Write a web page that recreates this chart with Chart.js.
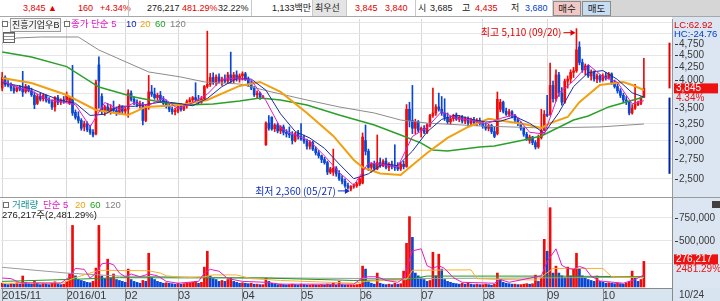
<!DOCTYPE html>
<html>
<head>
<meta charset="utf-8">
<script src="https://cdn.jsdelivr.net/npm/chart.js@4.4.1/dist/chart.umd.min.js"></script>
<style>
  body { margin: 0; width: 720px; height: 301px; position: relative; overflow: hidden; background: #fff;
         font-family: "Liberation Sans", "Noto Sans CJK KR", sans-serif; font-size: 9.5px; }
  .abs { position: absolute; white-space: nowrap; line-height: 12px; }
  #top { position: absolute; left: 0; top: 0; width: 720px; height: 16px; background: #fff; border-bottom: 1px solid #a8a8a8; font-size: 9px; }
  .sep { position: absolute; top: 0; width: 1px; height: 16px; background: #c8c8c8; }
  .btn { position: absolute; top: 1px; height: 13px; border: 1px solid #8c8c8c; text-align: center; line-height: 13px; font-size: 9.5px; }
  .r { color: #e00000; } .b { color: #0040c8; } .k { color: #202020; }
  .m5 { color: #e01cc8; } .m10 { color: #1020c0; } .m20 { color: #f0a010; } .m60 { color: #20a020; } .m120 { color: #808080; }
  .sq { position: absolute; width: 4px; height: 4px; border: 1px solid #707070; background: #fff; }
  canvas { position: absolute; left: 0; }
</style>
</head>
<body>
<div id="top">
  <span class="abs r" style="left:23px;top:2px">3,845 ▲</span>
  <span class="abs r" style="left:78px;top:2px">160</span>
  <span class="abs r" style="left:100px;top:2px">+4.34%</span>
  <div class="sep" style="left:128px"></div>
  <span class="abs k" style="left:147px;top:2px">276,217</span>
  <span class="abs r" style="left:182px;top:2px">481.29%</span>
  <span class="abs k" style="left:218px;top:2px">32.22%</span>
  <div class="sep" style="left:251px"></div>
  <span class="abs k" style="left:272px;top:2px">1,133백만</span>
  <div style="position:absolute;left:312px;top:0;width:33px;height:16px;background:#e4e4e4;border-left:1px solid #c8c8c8;border-right:1px solid #c8c8c8"></div>
  <span class="abs k" style="left:315px;top:2px">최우선</span>
  <span class="abs r" style="left:355px;top:2px">3,845</span>
  <span class="abs r" style="left:385px;top:2px">3,840</span>
  <div class="sep" style="left:415px"></div>
  <span class="abs k" style="left:418px;top:2px">시</span>
  <span class="abs k" style="left:430px;top:2px">3,685</span>
  <span class="abs k" style="left:462px;top:2px">고</span>
  <span class="abs r" style="left:475px;top:2px">4,435</span>
  <span class="abs k" style="left:511px;top:2px">저</span>
  <span class="abs b" style="left:525px;top:2px">3,680</span>
  <div style="position:absolute;left:552px;top:0;width:168px;height:16px;background:#d6d6d6"></div>
  <div class="btn k" style="left:553px;width:26px;background:#f2c8c4">매수</div>
  <div class="btn k" style="left:582px;width:27px;background:#c8dcf2">매도</div>
</div>

<canvas id="price" width="720" height="180" style="top:17px;width:720px;height:180px"></canvas>
<div style="position:absolute;left:0;top:197px;width:720px;height:1px;background:#9a9a9a"></div>
<canvas id="volume" width="720" height="103" style="top:198px;width:720px;height:103px"></canvas>

<!-- price legend -->
<div class="sq" style="left:2px;top:21px"></div>
<div class="abs k" style="left:10px;top:18px;height:12px;padding:0 1px;border:1px solid #9a9a9a;background:#f4f4f4;font-size:9px">진흥기업우B</div>
<div class="sq" style="left:64px;top:21px"></div>
<span class="abs m5" style="left:71px;top:18px">종가 단순 5</span>
<span class="abs m10" style="left:126px;top:18px">10</span>
<span class="abs m20" style="left:140px;top:18px">20</span>
<span class="abs m60" style="left:155px;top:18px">60</span>
<span class="abs m120" style="left:170px;top:18px">120</span>
<div style="position:absolute;left:3px;top:32px;width:10px;height:9px;border:1px solid #606060;background:repeating-linear-gradient(0deg,#fff 0,#fff 2px,#909090 2px,#909090 3px)"></div>

<!-- right header -->
<span class="abs r" style="left:674px;top:19px">LC:62.92</span>
<span class="abs b" style="left:674px;top:28px">HC:-24.76</span>

<!-- volume legend -->
<div class="sq" style="left:3px;top:202px"></div>
<span class="abs" style="left:12px;top:199px;color:#109090">거래량</span>
<span class="abs m5" style="left:43px;top:199px">단순 5</span>
<span class="abs m20" style="left:75px;top:199px">20</span>
<span class="abs m60" style="left:90px;top:199px">60</span>
<span class="abs m120" style="left:105px;top:199px">120</span>
<span class="abs k" style="left:2px;top:209px">276,217주(2,481.29%)</span>
<div style="position:absolute;left:712px;top:201px;width:6px;height:5px;background:#404040;border:1px solid #404040"></div>

<script>
// trading days from 2015-11-30 to 2016-10-24 (index 0..219)
const monthStarts = [0, 22, 42, 60, 82, 102, 122, 143, 164, 186, 205];
const monthLabels = ['2015/11', '2016/01', '02', '03', '04', '05', '06', '07', '08', '09', '10'];
const lastDateLabel = '10/24';

const opens = [
  3850,4050,3930,3900,3850,3800,3870,3850,3790,3880, 3800,3720,3580,3700,3660,3720,3630,3600,3520,3680,
  3600,3640,3640,3580,3680,3430,3360,3300,3200,3250, 3160,3120,3100,4300,3700,3450,3520,3450,3500,3460,
  3430,3520,3450,3480,3760,3650,3600,3560,3560,3300, 3520,3780,3740,3680,3720,3640,3580,3540,3480,3440,
  3450,3530,3480,3540,3610,3640,3680,3640,3600,3660, 3880,3920,4050,3960,4060,3980,4020,3980,4100,4000,
  4100,4020,4080,4120,4020,3920,3850,3730,3760,3690, 2940,3260,3350,3170,3230,3140,3200,3120,3100,3080,
  3000,3100,3060,3020,2990,2920,2970,2880,2830,2790, 2740,2700,2580,2580,2630,2560,2500,2470,2420,2380,
  2410,2420,2440,2450,3000,2850,2640,2680,2620,2700, 2660,2720,2640,2680,2650,2640,2620,2680,2650,3480,
  3300,3180,3280,3150,3180,3120,3230,3380,3420,3520, 3480,3420,3350,3280,3330,3380,3320,3350,3290,3330,
  3260,3310,3270,3300,3260,3210,3180,3220,3130,3100, 3480,3600,3450,3400,3440,3370,3310,3250,3180,3090,
  3000,3050,2970,2910,3040,3150,3400,3400,3900,3660, 4100,3760,3600,3980,4020,4150,4180,4680,4350,4200,
  4280,4080,4150,4020,4080,4000,4080,4040,4120,3950, 3880,3800,3720,3640,3600,3420,3500,3560,3580,3685
];
const highs = [
  4150,4080,3990,3950,3900,3880,3900,4170,3920,3900, 3850,3780,3740,3760,3750,3730,3680,3640,3700,3720,
  3660,3700,3780,3700,4290,3470,3440,3330,3290,3280, 3230,3160,4000,4470,3750,3550,3580,3560,3620,3520,
  3560,3540,3520,3820,3800,3700,3640,3620,3600,3560, 4090,3900,3850,3760,3790,3700,3640,3580,3520,3500,
  3560,3580,3560,3640,3680,3700,3950,3720,3700,3900, 5050,4130,4140,4100,4120,4060,4100,4150,4570,4150,
  4180,4120,4160,4150,4060,3980,3880,3800,3780,3720, 3280,3380,3360,3250,3260,3220,3230,3160,3200,3130,
  3120,3150,3250,3080,3020,3000,2990,2910,2860,2800, 2770,2720,2640,2880,2650,2600,2540,2500,2450,2420,
  2440,2460,2520,3110,3230,2880,2700,2720,3080,2760, 2740,2760,2700,2720,2940,2700,2700,2720,3560,3600,
  3900,3320,3300,3200,3220,3250,3400,3850,3560,3760, 3700,3660,3420,3360,3400,3420,3380,3380,3360,3360,
  3340,3350,3330,3340,3300,3260,3240,3240,3200,3780, 3650,3620,3500,3480,3460,3400,3340,3280,3200,3120,
  3080,3060,3000,3080,3480,3460,3720,4340,3980,4200, 4150,3860,4020,4080,4200,4250,5110,4800,4420,4320,
  4300,4200,4180,4120,4100,4120,4150,4150,4140,4000, 3920,3840,3760,3700,3620,3560,3920,3620,3700,4435
];
const lows = [
  3800,3880,3870,3800,3760,3780,3800,3700,3760,3780, 3700,3490,3560,3620,3620,3600,3580,3480,3450,3560,
  3560,3580,3600,3560,3380,3320,3260,3150,3140,3130, 3090,3050,3080,3500,3400,3380,3420,3400,3420,3380,
  3400,3410,3400,3350,3620,3560,3520,3500,3230,3280, 3480,3700,3650,3640,3600,3560,3500,3440,3400,3390,
  3420,3450,3460,3500,3560,3600,3600,3560,3580,3640, 3850,3880,3920,3900,3940,3900,3950,3940,3950,3950,
  3980,3960,4000,3990,3880,3820,3700,3680,3650,3660, 2930,3150,3150,3130,3110,3100,3080,3050,3040,2950,
  2980,3020,3000,2960,2880,2880,2860,2800,2760,2700, 2680,2550,2560,2540,2530,2480,2440,2400,2380,2360,
  2390,2400,2420,2440,2800,2600,2580,2600,2610,2640, 2650,2620,2600,2620,2600,2600,2600,2620,2640,3200,
  3100,3100,3120,3050,3100,3100,3200,3350,3380,3450, 3380,3300,3250,3240,3290,3300,3280,3260,3250,3220,
  3230,3240,3220,3230,3180,3150,3140,3100,3040,3080, 3440,3420,3380,3360,3340,3280,3220,3150,3060,3000,
  2960,2940,2880,2890,3020,3140,3360,3380,3600,3620, 3700,3550,3580,3850,3950,4050,4150,4300,4150,4100,
  4050,4000,3980,3950,3960,3980,4000,4020,3920,3850, 3760,3680,3600,3560,3390,3400,3480,3540,3560,3680
];
const closes = [
  4050,3920,3900,3850,3800,3860,3830,3780,3880,3800, 3730,3560,3700,3650,3720,3630,3600,3520,3680,3600,
  3640,3620,3720,3680,3420,3350,3300,3180,3250,3160, 3120,3080,3950,3980,3450,3520,3450,3500,3460,3430,
  3520,3450,3480,3760,3650,3600,3560,3580,3300,3520, 3780,3740,3680,3720,3640,3580,3540,3480,3440,3460,
  3530,3480,3540,3610,3640,3680,3640,3600,3660,3880, 3920,4050,3960,4060,3980,4020,3980,4100,4000,4100,
  4020,4080,4120,4020,3920,3850,3730,3760,3690,3700, 3260,3180,3170,3230,3140,3200,3120,3100,3080,3000,
  3100,3060,3020,2990,2920,2970,2880,2830,2790,2740, 2700,2580,2620,2630,2560,2500,2470,2420,2400,2410,
  2420,2440,2500,3050,2850,2640,2680,2620,2700,2660, 2720,2640,2680,2650,2640,2620,2680,2650,3480,3300,
  3180,3280,3150,3180,3120,3230,3380,3420,3520,3480, 3420,3350,3280,3330,3380,3320,3350,3290,3330,3260,
  3310,3270,3300,3260,3210,3180,3220,3130,3060,3650, 3600,3450,3400,3440,3370,3310,3250,3180,3090,3030,
  3050,2970,2910,3040,3150,3400,3380,3900,3660,4100, 3760,3600,3980,4020,4150,4180,4620,4350,4200,4280,
  4080,4150,4020,4080,4000,4080,4040,4120,3950,3880, 3800,3720,3640,3600,3420,3500,3560,3580,3685,3845
];
const volumes = [
  40000,30000,25000,35000,30000,45000,30000,118000,50000,35000, 30000,60000,40000,25000,35000,30000,25000,40000,55000,30000,
  25000,30000,60000,140000,665000,120000,80000,70000,60000,50000, 45000,60000,204000,665000,118000,90000,300000,100000,140000,80000,
  70000,60000,50000,193000,80000,60000,50000,40000,70000,60000, 364000,100000,80000,60000,50000,40000,45000,40000,35000,30000,
  40000,30000,35000,40000,45000,50000,60000,40000,50000,214000, 386000,120000,90000,80000,60000,70000,60000,80000,100000,60000,
  50000,40000,45000,40000,35000,40000,30000,30000,25000,25000, 96000,60000,40000,30000,25000,30000,25000,20000,25000,30000,
  25000,20000,30000,25000,20000,20000,25000,20000,20000,25000, 20000,30000,25000,40000,20000,60000,25000,20000,20000,20000,
  20000,25000,30000,225000,193000,60000,40000,30000,150000,40000, 30000,25000,30000,25000,40000,30000,35000,171000,472000,760000,
  536000,150000,120000,100000,80000,60000,70000,375000,120000,354000, 193000,80000,60000,50000,40000,35000,30000,40000,30000,50000,
  30000,25000,30000,25000,25000,30000,25000,20000,30000,150000, 80000,50000,40000,35000,30000,30000,25000,25000,30000,35000,
  30000,35000,128000,60000,100000,515000,386000,857000,150000,225000, 150000,120000,100000,214000,120000,193000,364000,200000,120000,100000,
  80000,70000,60000,118000,60000,50000,40000,45000,40000,35000, 40000,35000,30000,40000,60000,171000,100000,60000,80000,276217
];

// moving averages: [day index, value]
const ma5 = [[0,3980],[5,3866],[10,3804],[15,3652],[20,3608],[25,3558],[30,3202],[35,3596],[40,3472],[45,3588],
  [50,3548],[55,3672],[60,3490],[65,3590],[70,3740],[75,4014],[80,4040],[85,3998],[90,3628],[95,3184],[100,3080],
  [105,2992],[110,2788],[115,2578],[120,2424],[125,2696],[130,2676],[135,2646],[140,3058],[145,3192],[150,3444],
  [155,3332],[160,3308],[165,3244],[170,3332],[175,3394],[180,3120],[185,3094],[190,3760],[195,3986],[200,4306],
  [205,4066],[210,3958],[215,3572],[219,3626]];
const ma10 = [[0,3950],[5,3900],[10,3835],[15,3728],[20,3630],[25,3583],[30,3380],[35,3400],[40,3534],[45,3530],
  [50,3568],[55,3610],[60,3581],[65,3540],[70,3665],[75,3877],[80,4027],[85,4019],[90,3813],[95,3406],[100,3132],
  [105,3036],[110,2890],[115,2683],[120,2501],[125,2560],[130,2686],[135,2661],[140,2852],[145,3125],[150,3318],
  [155,3388],[160,3320],[165,3276],[170,3288],[175,3363],[180,3257],[185,3107],[190,3427],[195,3878],[200,4146],
  [205,4186],[210,4012],[215,3765],[219,3690]];
const ma20 = [[0,4040],[10,3945],[22,3726],[32,3469],[43,3387],[49,3520],[61,3553],[70,3638],[81,3890],[88,3965],
  [95,3780],[104,3420],[113,3066],[120,2734],[123,2640],[129,2565],[136,2546],[138,2607],[145,2827],[152,3038],
  [159,3200],[166,3327],[178,3245],[184,3185],[187,3260],[193,3355],[197,3600],[204,3907],[212,3965],[215,3907],[219,3816]];
const ma60 = [[0,4572],[10,4466],[22,4265],[33,3870],[45,3690],[54,3602],[63,3553],[72,3570],[81,3620],[88,3672],
  [95,3638],[104,3553],[115,3387],[127,3230],[136,3080],[143,2963],[147,2868],[152,2854],[163,2909],[168,2923],
  [178,3007],[184,3066],[195,3307],[200,3372],[207,3520],[219,3690]];
const ma120 = [[0,4773],[5,4888],[13,4911],[26,4911],[33,4616],[50,4158],[61,4059],[69,3965],[81,3926],[92,3780],
  [104,3638],[115,3520],[127,3420],[136,3307],[145,3260],[163,3215],[184,3185],[204,3200],[219,3245]];

const volMa5 = [[0,96000],[3,90000],[6,45000],[20,40000],[23,110000],[25,200000],[28,190000],[30,95000],[32,150000],
  [34,250000],[36,260000],[38,240000],[40,150000],[42,110000],[44,140000],[47,110000],[50,140000],[53,120000],
  [56,60000],[60,40000],[67,60000],[69,150000],[71,190000],[74,170000],[77,90000],[82,60000],[90,50000],[95,30000],
  [120,30000],[123,100000],[125,110000],[128,110000],[131,70000],[135,50000],[137,90000],[138,190000],[140,390000],
  [143,412000],[145,230000],[147,200000],[149,230000],[151,200000],[154,100000],[157,50000],[168,40000],[170,80000],
  [173,50000],[184,120000],[186,275000],[189,412000],[191,233000],[193,200000],[195,190000],[197,222000],
  [199,200000],[201,117000],[204,64000],[212,40000],[216,80000],[219,130000]];
const volMa20 = [[0,40000],[21,45000],[24,90000],[28,130000],[33,180000],[50,175000],[54,150000],[56,120000],
  [63,100000],[69,110000],[72,130000],[80,130000],[85,90000],[95,70000],[120,40000],[124,60000],[138,80000],
  [140,180000],[160,185000],[162,90000],[170,80000],[183,75000],[185,130000],[188,200000],[205,200000],
  [208,110000],[219,100000]];
const volMa60 = [[0,60000],[22,80000],[40,100000],[90,96000],[120,70000],[138,80000],[145,117000],[190,117000],[219,110000]];
const volMa120 = [[0,212000],[22,150000],[40,117000],[80,100000],[130,90000],[170,95000],[219,105000]];

const priceGrid = [2500,2750,3000,3250,3500,3750,4000,4250,4500,4750,5000,5250];
const priceLabels = [2500,2750,3000,3250,3500,4000,4250,4500,4750];
const volGrid = [250000, 500000, 750000];
const volLabels = [500000, 750000];

const periodHigh = { day: 196, value: 5110, text: '최고 5,110 (09/20)' };
const periodLow = { day: 119, value: 2360, text: '최저 2,360 (05/27)' };
const rangeTop = 4780, rangeBottom = 2560;
const changePct = '4.34%';
const volRatio = '2481.29%';

const RED = '#f00a0a', BLUE = '#0a46d2';
const FONT = '"Liberation Sans", "Noto Sans CJK KR", sans-serif';
Chart.defaults.font.family = FONT;
Chart.defaults.font.size = 10;

const days = closes.map((_, i) => i);
const candleColor = days.map(i => closes[i] >= opens[i] ? RED : BLUE);
// volume bars: red when volume rose from the previous day, blue when it fell
const volColor = days.map(i => (i === 0 || volumes[i] >= volumes[i - 1]) ? RED : BLUE);
const xy = pairs => pairs.map(p => ({ x: p[0], y: p[1] }));
const fmt = v => v.toLocaleString('en-US');

const xMin = -0.41, xMax = 228.6;

function line(data, color, width, order) {
  return { type: 'line', data: xy(data), borderColor: color, borderWidth: width, pointRadius: 0, order: order };
}

function rightPanel(chart) {
  const { ctx, chartArea: a } = chart;
  ctx.save();
  ctx.fillStyle = '#dce6f2';
  ctx.fillRect(a.right, 0, chart.width - a.right, chart.height);
  ctx.restore();
}

function drawArrow(ctx, x0, x1, y, color) {
  ctx.strokeStyle = color; ctx.fillStyle = color; ctx.lineWidth = 1;
  ctx.beginPath(); ctx.moveTo(x0, y); ctx.lineTo(x1 - 3, y); ctx.stroke();
  ctx.beginPath(); ctx.moveTo(x1, y); ctx.lineTo(x1 - 5, y - 3); ctx.lineTo(x1 - 5, y + 3); ctx.closePath(); ctx.fill();
}

const priceDecor = {
  id: 'priceDecor',
  beforeDraw: rightPanel,
  afterDraw(chart) {
    const { ctx, chartArea: a, scales: { x, y } } = chart;
    ctx.save();
    ctx.font = '10px ' + FONT;
    ctx.textBaseline = 'middle';
    ctx.fillStyle = '#383838'; ctx.strokeStyle = '#383838'; ctx.lineWidth = 1;
    priceLabels.forEach(v => {
      const py = Math.round(y.getPixelForValue(v)) + 0.5;
      ctx.beginPath(); ctx.moveTo(a.right + 3, py); ctx.lineTo(a.right + 6, py); ctx.stroke();
      ctx.fillText(fmt(v), a.right + 7, py);
    });
    // price range bar at the right edge of the plot
    const last = closes[closes.length - 1];
    const rx = a.right - 2.5;
    ctx.lineWidth = 2;
    ctx.strokeStyle = '#e00000';
    ctx.beginPath(); ctx.moveTo(rx, y.getPixelForValue(rangeTop)); ctx.lineTo(rx, y.getPixelForValue(last)); ctx.stroke();
    ctx.strokeStyle = '#0020b0';
    ctx.beginPath(); ctx.moveTo(rx, y.getPixelForValue(lows[lows.length - 1])); ctx.lineTo(rx, y.getPixelForValue(rangeBottom)); ctx.stroke();
    // current price box
    const cy = y.getPixelForValue(last);
    ctx.fillStyle = '#ee1111';
    ctx.fillRect(a.right + 2, cy - 5, 44, 10);
    ctx.fillStyle = '#fff';
    ctx.fillText(fmt(last), a.right + 4, cy);
    ctx.fillStyle = '#ee1111';
    ctx.fillText(changePct, a.right + 4, cy + 10);
    // high / low markers
    ctx.font = '10px "Noto Sans CJK KR", ' + FONT;
    ctx.textAlign = 'right';
    const hx = x.getPixelForValue(periodHigh.day), hy = y.getPixelForValue(periodHigh.value) + 4;
    ctx.fillStyle = '#e00000';
    ctx.fillText(periodHigh.text, hx - 15, hy);
    drawArrow(ctx, hx - 13, hx - 1, hy, '#e00000');
    const lx = x.getPixelForValue(periodLow.day), ly = y.getPixelForValue(periodLow.value);
    ctx.fillStyle = '#1030c0';
    ctx.fillText(periodLow.text, lx - 15, ly);
    drawArrow(ctx, lx - 13, lx - 1, ly, '#1030c0');
    ctx.restore();
  }
};

const volDecor = {
  id: 'volDecor',
  beforeDraw(chart) {
    rightPanel(chart);
    const { ctx, chartArea: a } = chart;
    ctx.save();
    ctx.fillStyle = '#d8e4f0';
    ctx.fillRect(0, a.bottom, chart.width, chart.height - a.bottom);
    ctx.restore();
  },
  afterDraw(chart) {
    const { ctx, chartArea: a, scales: { x, y } } = chart;
    ctx.save();
    ctx.strokeStyle = '#8a8a8a'; ctx.lineWidth = 1;
    monthStarts.forEach(d => {
      const px = Math.round(x.getPixelForValue(d)) + 0.5;
      ctx.beginPath(); ctx.moveTo(px, a.bottom); ctx.lineTo(px, chart.height); ctx.stroke();
    });
    ctx.beginPath(); ctx.moveTo(a.right + 0.5, 0); ctx.lineTo(a.right + 0.5, chart.height); ctx.stroke();
    ctx.font = '10px ' + FONT;
    ctx.textBaseline = 'middle';
    ctx.fillStyle = '#383838'; ctx.strokeStyle = '#383838';
    volLabels.forEach(v => {
      const py = Math.round(y.getPixelForValue(v)) + 0.5;
      ctx.beginPath(); ctx.moveTo(a.right + 3, py); ctx.lineTo(a.right + 6, py); ctx.stroke();
      ctx.fillText(fmt(v), a.right + 7, py);
    });
    ctx.fillText(lastDateLabel, a.right + 7, a.bottom + 7);
    const lastVol = volumes[volumes.length - 1];
    const vy = y.getPixelForValue(lastVol) - 2;
    ctx.fillStyle = '#ee1111';
    ctx.fillRect(a.right + 2, vy - 5, 44, 10);
    ctx.fillStyle = '#fff';
    ctx.fillText(fmt(lastVol), a.right + 4, vy);
    ctx.fillStyle = '#ee1111';
    ctx.fillText(volRatio, a.right + 4, vy + 10);
    ctx.restore();
  }
};

new Chart(document.getElementById('price'), {
  type: 'bar',
  data: {
    datasets: [
      line(ma5, '#e01cc8', 1, 1),
      line(ma10, '#1c2c9c', 1, 2),
      line(ma20, '#f0a010', 2, 3),
      line(ma60, '#2aa02a', 1.5, 4),
      line(ma120, '#8c8c8c', 1, 5),
      { type: 'bar', data: days.map(i => ({ x: i, y: [opens[i], closes[i]] })), backgroundColor: candleColor,
        barThickness: 2, grouped: false, order: 6 },
      { type: 'bar', data: days.map(i => ({ x: i, y: [lows[i], highs[i]] })), backgroundColor: candleColor,
        barThickness: 1, grouped: false, order: 7 }
    ]
  },
  options: {
    responsive: false, animation: false, devicePixelRatio: 1, events: [],
    layout: { padding: { left: 1, top: 2, right: 0, bottom: 0 } },
    plugins: { legend: { display: false }, tooltip: { enabled: false } },
    scales: {
      x: {
        type: 'linear', min: xMin, max: xMax, offset: false,
        afterBuildTicks: s => { s.ticks = monthStarts.map(v => ({ value: v })); },
        afterFit: s => { s.height = 0; },
        ticks: { display: false },
        grid: { color: '#d9d9d9', drawTicks: false, offset: false },
        border: { display: false }
      },
      y: {
        type: 'logarithmic', position: 'right', min: 2292.4, max: 5350.5,
        afterBuildTicks: s => { s.ticks = priceGrid.map(v => ({ value: v })); },
        afterFit: s => { s.width = 48; },
        ticks: { display: false },
        grid: { color: '#e6e6e6', drawTicks: false },
        border: { display: true, color: '#9a9a9a' }
      }
    }
  },
  plugins: [priceDecor]
});

new Chart(document.getElementById('volume'), {
  type: 'bar',
  data: {
    datasets: [
      line(volMa5, '#e01cc8', 1, 1),
      line(volMa20, '#f5b030', 1, 2),
      line(volMa60, '#1c9a1c', 1, 3),
      line(volMa120, '#9a9a9a', 1, 4),
      { type: 'bar', data: days.map(i => ({ x: i, y: volumes[i] })), backgroundColor: volColor,
        barThickness: 2, grouped: false, order: 5 }
    ]
  },
  options: {
    responsive: false, animation: false, devicePixelRatio: 1, events: [],
    layout: { padding: { left: 1, top: 2, right: 0, bottom: 0 } },
    plugins: { legend: { display: false }, tooltip: { enabled: false } },
    scales: {
      x: {
        type: 'linear', min: xMin, max: xMax, offset: false,
        afterBuildTicks: s => { s.ticks = monthStarts.map(v => ({ value: v })); },
        afterFit: s => { s.height = 13; },
        ticks: { display: true, align: 'start', padding: 1, color: '#383838', font: { size: 11 },
                 callback: v => monthLabels[monthStarts.indexOf(v)] },
        grid: { color: '#d9d9d9', drawTicks: false, offset: false },
        border: { display: true, color: '#8a8a8a' }
      },
      y: {
        type: 'linear', position: 'right', min: -11600, max: 940000,
        afterBuildTicks: s => { s.ticks = volGrid.map(v => ({ value: v })); },
        afterFit: s => { s.width = 48; },
        ticks: { display: false },
        grid: { color: '#e6e6e6', drawTicks: false },
        border: { display: true, color: '#9a9a9a' }
      }
    }
  },
  plugins: [volDecor]
});
</script>
</body>
</html>
